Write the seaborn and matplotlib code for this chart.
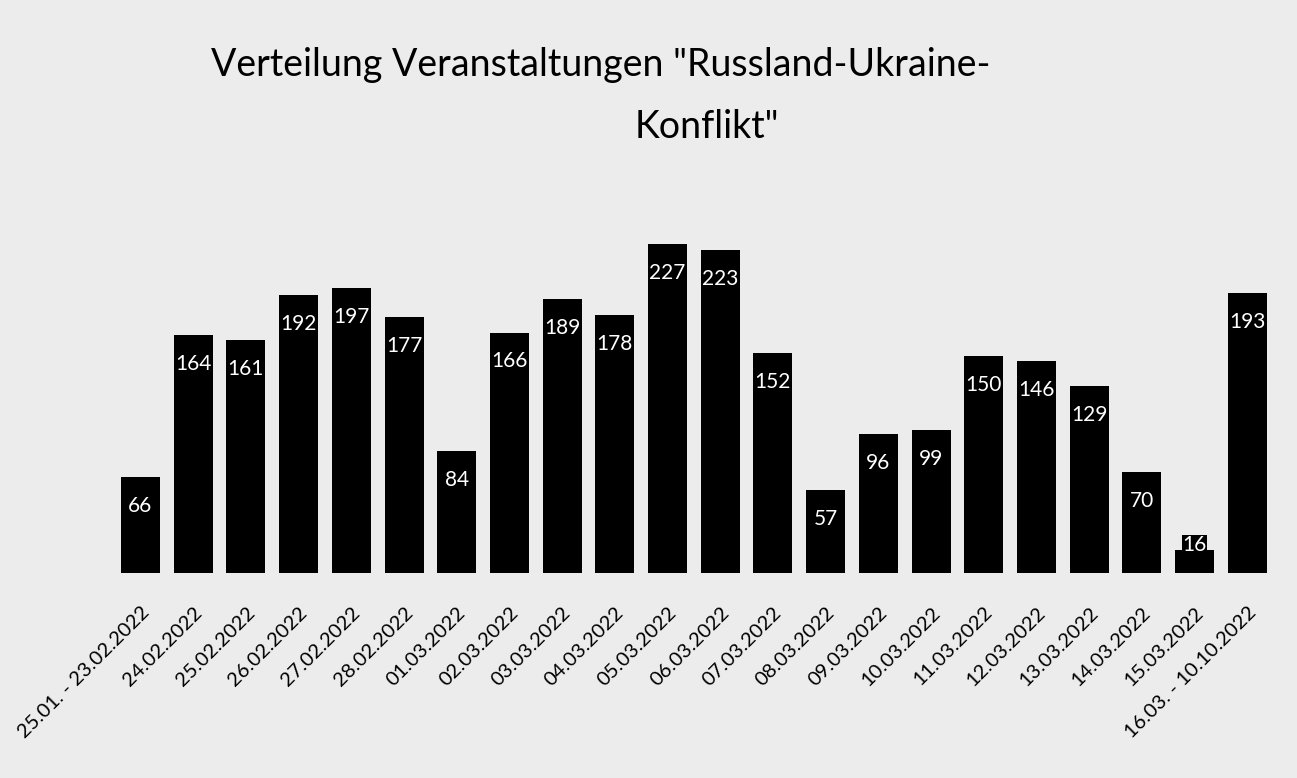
import matplotlib
matplotlib.use("Agg")
import matplotlib.pyplot as plt
import seaborn as sns
import pandas as pd

# Zeiträume / Tage
zeitraum = ["25.01. - 23.02.2022", "24.02.2022", "25.02.2022", "26.02.2022",
            "27.02.2022", "28.02.2022", "01.03.2022", "02.03.2022",
            "03.03.2022", "04.03.2022", "05.03.2022", "06.03.2022",
            "07.03.2022", "08.03.2022", "09.03.2022", "10.03.2022",
            "11.03.2022", "12.03.2022", "13.03.2022", "14.03.2022",
            "15.03.2022", "16.03. - 10.10.2022"]
# Anzahl Veranstaltungen
anzahl = [66, 164, 161, 192, 197, 177, 84, 166, 189, 178, 227, 223,
          152, 57, 96, 99, 150, 146, 129, 70, 16, 193]

title_line1 = 'Verteilung Veranstaltungen "Russland-Ukraine-'
title_line2 = 'Konflikt"'

df = pd.DataFrame({"zeitraum": zeitraum, "anzahl": anzahl})

sns.set_style("white")
plt.rcParams["font.family"] = ["Lato", "DejaVu Sans"]

fig = plt.figure(figsize=(12.97, 7.78), dpi=100, facecolor="#ececec")
ax = fig.add_axes([0.088, 0.2635, 0.894, 0.4655])
ax.set_facecolor("#ececec")

sns.barplot(data=df, x="zeitraum", y="anzahl", color="black",
            width=0.74, saturation=1, edgecolor="black", linewidth=0, ax=ax)

# Datenbeschriftungen innen am Ende, weiß auf schwarz
for i, v in enumerate(anzahl):
    ax.text(i, max(v - 20, 19), str(v), color="white", fontsize=15,
            ha="center", va="center",
            bbox=dict(facecolor="black", edgecolor="none", pad=0.5))

ax.set_ylim(0, 250)
ax.set_xlim(-0.5, len(zeitraum) - 0.5)
ax.set_yticks([])
ax.set_xlabel("")
ax.set_ylabel("")
for s in ax.spines.values():
    s.set_visible(False)
ax.tick_params(axis="x", length=0, pad=22)
plt.setp(ax.get_xticklabels(), rotation=45, ha="right",
         rotation_mode="anchor", fontsize=14.5, color="black")

fig.text(0.463, 0.916, title_line1, ha="center", va="center",
         fontsize=27, color="black")
fig.text(0.545, 0.837, title_line2, ha="center", va="center",
         fontsize=27, color="black")

fig.savefig("out.png", dpi=100, facecolor=fig.get_facecolor())
